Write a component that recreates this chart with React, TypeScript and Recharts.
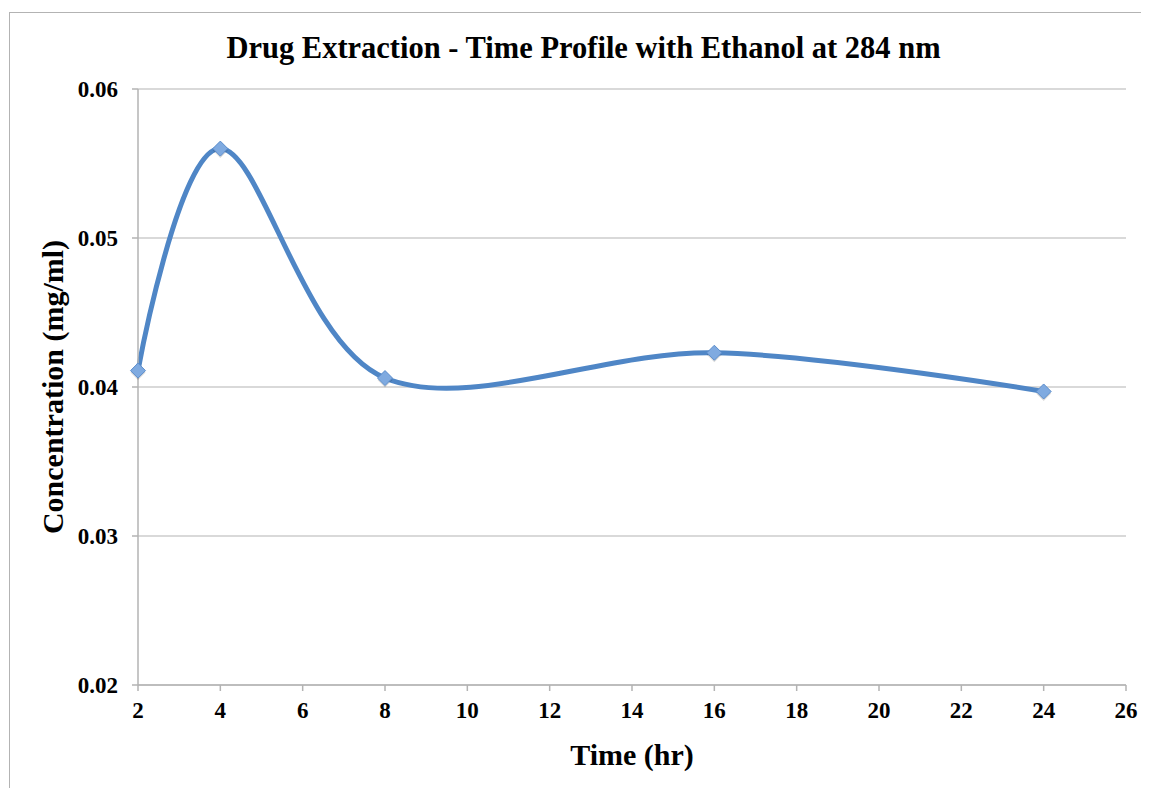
import { LineChart, Line, XAxis, YAxis, CartesianGrid, Label } from 'recharts'

const times = [2, 4, 8, 16, 24]
const concentrations = [0.0411, 0.056, 0.0406, 0.0423, 0.0397]
const xTicks = [2, 4, 6, 8, 10, 12, 14, 16, 18, 20, 22, 24, 26]
const yTicks = [0.02, 0.03, 0.04, 0.05, 0.06]

const chartTitle = 'Drug Extraction - Time Profile with Ethanol at 284 nm'
const xTitle = 'Time (hr)'
const yTitle = 'Concentration (mg/ml)'

const data = times.map((t, i) => ({ time: t, conc: concentrations[i] }))

const font = '"Liberation Serif", "Times New Roman", serif'
const axisGray = '#b3b3b3'
const lineBlue = '#4f86c6'

// Excel-like smoothed line (Catmull-Rom through the points)
function smoothCurve(context: any) {
  const k = 1 / 6
  let x0 = NaN, y0 = NaN, x1 = NaN, y1 = NaN, x2 = NaN, y2 = NaN
  let n = 0
  const seg = (x: number, y: number) => {
    context.bezierCurveTo(
      x1 + k * (x2 - x0), y1 + k * (y2 - y0),
      x2 + k * (x1 - x), y2 + k * (y1 - y),
      x2, y2,
    )
  }
  return {
    areaStart() {},
    areaEnd() {},
    lineStart() {
      x0 = x1 = x2 = y0 = y1 = y2 = NaN
      n = 0
    },
    lineEnd() {
      if (n === 2) context.lineTo(x2, y2)
      else if (n === 3) seg(x1, y1)
    },
    point(x: number, y: number) {
      x = +x
      y = +y
      if (n === 0) {
        n = 1
        context.moveTo(x, y)
      } else if (n === 1) {
        n = 2
        x1 = x
        y1 = y
      } else {
        n = 3
        seg(x, y)
      }
      x0 = x1; x1 = x2; x2 = x
      y0 = y1; y1 = y2; y2 = y
    },
  }
}

function Diamond(props: any) {
  const { cx, cy, index } = props
  if (cx == null || cy == null) return null
  const r = 7.5
  return (
    <g key={`d-${index}`}>
      <polygon
        points={`${cx},${cy - r + 2} ${cx + r},${cy + 2} ${cx},${cy + r + 2} ${cx - r},${cy + 2}`}
        fill="rgba(0,0,0,0.15)"
      />
      <polygon
        points={`${cx},${cy - r} ${cx + r},${cy} ${cx},${cy + r} ${cx - r},${cy}`}
        fill="#7faae0"
        stroke="#5b8dcc"
        strokeWidth={1}
      />
    </g>
  )
}

const tickStyle = { fontFamily: font, fontSize: 23, fontWeight: 700, fill: '#000' }

export default function App() {
  return (
    <div
      style={{
        position: 'relative',
        marginLeft: 1,
        marginTop: 4,
        width: 1139,
        height: 775,
        borderTop: `1px solid ${axisGray}`,
        borderLeft: `1px solid ${axisGray}`,
        background: '#fff',
      }}
    >
      <div
        style={{
          position: 'absolute',
          left: 0,
          top: 18,
          width: 1147,
          textAlign: 'center',
          fontFamily: font,
          fontWeight: 700,
          fontSize: 30.5,
          lineHeight: '35px',
          color: '#000',
        }}
      >
        {chartTitle}
      </div>
      <LineChart
        width={1139}
        height={775}
        data={data}
        margin={{ top: 76, right: 23, bottom: 0, left: 0 }}
      >
        <CartesianGrid horizontal vertical={false} stroke={axisGray} strokeWidth={1.2} />
        <XAxis
          dataKey="time"
          type="number"
          domain={[2, 26]}
          ticks={xTicks}
          interval={0}
          height={103}
          stroke={axisGray}
          strokeWidth={1.5}
          tickSize={6}
          tickMargin={11}
          tick={tickStyle}
        >
          <Label
            content={({ viewBox }: any) => (
              <text
                x={viewBox.x + viewBox.width / 2}
                y={viewBox.y + 80}
                textAnchor="middle"
                fontFamily={font}
                fontWeight={700}
                fontSize={30}
                fill="#000"
              >
                {xTitle}
              </text>
            )}
          />
        </XAxis>
        <YAxis
          type="number"
          domain={[0.02, 0.06]}
          ticks={yTicks}
          interval={0}
          width={128}
          stroke={axisGray}
          strokeWidth={1.5}
          tickSize={6}
          tickMargin={14}
          tick={tickStyle}
          tickFormatter={(v: number) => v.toFixed(2)}
        >
          <Label
            content={({ viewBox }: any) => {
              const cx = 42
              const cy = viewBox.y + viewBox.height / 2
              return (
                <text
                  x={cx}
                  y={cy}
                  transform={`rotate(-90, ${cx}, ${cy})`}
                  textAnchor="middle"
                  dominantBaseline="central"
                  fontFamily={font}
                  fontWeight={700}
                  fontSize={30}
                  fill="#000"
                >
                  {yTitle}
                </text>
              )
            }}
          />
        </YAxis>
        <Line
          dataKey="conc"
          type={smoothCurve as any}
          stroke={lineBlue}
          strokeWidth={5}
          dot={<Diamond />}
          activeDot={false}
          isAnimationActive={false}
        />
      </LineChart>
    </div>
  )
}
